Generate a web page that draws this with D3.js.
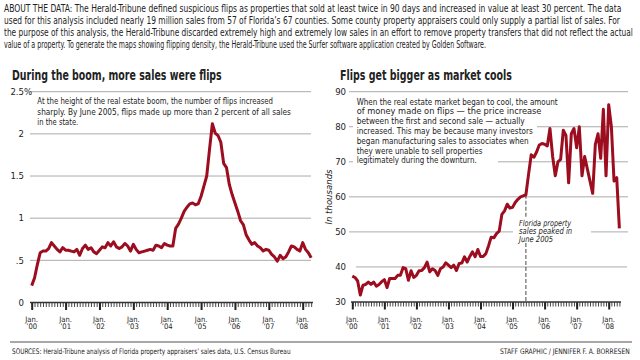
<!DOCTYPE html>
<html><head><meta charset="utf-8">
<script src="https://cdn.jsdelivr.net/npm/d3@7"></script>
<style>
body{margin:0;background:#fff}
svg{display:block}
text{font-family:'Liberation Sans Narrow','Arial Narrow','DejaVu Sans Condensed',sans-serif;fill:#222}
</style>
</head><body>
<svg id="c" width="640" height="360"></svg>
<script>
// Share of sales that were flips (%), monthly Jan 2000 – Apr 2008
const flipShare = [
 0.20,0.29,0.45,0.59,0.61,0.61,0.64,0.71,0.67,0.63,0.60,0.65,
 0.62,0.62,0.61,0.60,0.63,0.56,0.64,0.68,0.63,0.65,0.60,0.58,
 0.62,0.66,0.65,0.71,0.67,0.72,0.66,0.64,0.66,0.70,0.67,0.61,
 0.69,0.63,0.59,0.60,0.61,0.62,0.63,0.62,0.68,0.67,0.65,0.70,
 0.68,0.67,0.67,0.88,0.93,1.00,1.08,1.13,1.17,1.18,1.16,1.17,
 1.26,1.38,1.50,1.82,2.12,2.01,1.98,1.90,1.65,1.60,1.40,1.28,
 1.18,1.08,0.97,0.92,0.80,0.74,0.69,0.71,0.67,0.65,0.61,0.63,
 0.62,0.57,0.54,0.49,0.56,0.52,0.54,0.60,0.67,0.66,0.63,0.61,
 0.71,0.63,0.59,0.53
];
// Average gain on flips (thousands of dollars), monthly Jan 2000 – May 2008
const flipGain = [
 37.4,37.0,36.0,32.0,34.8,35.0,35.7,35.0,35.7,34.5,35.0,35.8,
 36.4,34.1,36.7,36.7,36.7,37.6,37.6,39.8,39.5,36.2,38.9,37.0,
 37.6,38.9,39.0,39.8,41.4,38.6,39.5,39.0,37.6,39.5,40.0,41.2,
 40.5,39.8,40.5,39.0,41.0,41.1,42.9,41.4,43.0,44.3,42.9,45.0,
 43.0,43.0,43.8,46.0,48.5,48.3,49.5,50.2,55.0,56.0,57.9,56.8,
 57.0,58.4,59.3,60.0,60.3,60.6,66.5,72.0,71.3,72.8,74.8,75.2,
 75.0,74.5,79.5,71.6,66.0,70.0,70.7,79.0,77.5,64.0,78.0,79.5,
 74.0,80.0,66.0,71.5,68.0,64.5,61.0,75.0,78.0,71.0,85.0,66.0,
 86.3,80.0,64.5,65.5,51.0
];
const yearLabels = ["’00","’01","’02","’03","’04","’05","’06","’07","’08"];
const shareTicks = [0,0.5,1,1.5,2,2.5];
const shareTickLabels = ["0",".5","1","1.5","2","2.5"];
const gainTicks = [30,40,50,60,70,80,90];
const peakMonth = 65; // June 2005

const aboutLines = [
 "ABOUT THE DATA: The Herald-Tribune defined suspicious flips as properties that sold at least twice in 90 days and increased in value at least 30 percent. The data",
 "used for this analysis included nearly 19 million sales from 57 of Florida’s 67 counties. Some county property appraisers could only supply a partial list of sales. For",
 "the purpose of this analysis, the Herald-Tribune discarded extremely high and extremely low sales in an effort to remove property transfers that did not reflect the actual",
 "value of a property. To generate the maps showing flipping density, the Herald-Tribune used the Surfer software application created by Golden Software."
];
const leftTitle = "During the boom, more sales were flips";
const rightTitle = "Flips get bigger as market cools";
const leftNote = [
 "At the height of the real estate boom, the number of flips increased",
 "sharply. By June 2005, flips made up more than 2 percent of all sales",
 "in the state."
];
const rightNote = [
 "When the real estate market began to cool, the amount",
 "of money made on flips — the price increase",
 "between the first and second sale —  actually",
 "increased. This may be because many investors",
 "began manufacturing sales to associates when",
 "they were unable to sell properties",
 "legitimately during the downturn."
];
const peakNote = ["Florida property","sales  peaked in","June 2005"];
const sourceText = "SOURCES: Herald-Tribune analysis of Florida property appraisers’ sales data, U.S. Census Bureau";
const creditText = "STAFF GRAPHIC / JENNIFER F. A. BORRESEN";

const svg = d3.select("#c");
svg.append("rect").attr("width",640).attr("height",360).attr("fill","#fff");

const RED = "#9c0d1f", GRID = "#ababab";

// place text at (x,y) and squeeze it horizontally to a given width
function fitText(parent, str, x, y, width, size, opts={}) {
  const t = parent.append("text").attr("font-size",size).text(str);
  if (opts.weight) t.attr("font-weight",opts.weight);
  if (opts.style) t.attr("font-style",opts.style);
  if (opts.fill) t.attr("fill",opts.fill);
  const w0 = t.node().getComputedTextLength();
  const sx = w0 > 0 ? width / w0 : 1;
  t.attr("transform",`translate(${x},${y}) scale(${sx},1)`);
  return t;
}

// About text
const aboutW = [617, 616, 629, 482];
aboutLines.forEach((t,i)=> fitText(svg, t, 4, 11.5+i*12, aboutW[i], 10.2));

// Titles
fitText(svg, leftTitle, 12, 80, 210, 13.5, {weight:"bold", fill:"#1a1a1a"});
fitText(svg, rightTitle, 340, 80, 172, 13.5, {weight:"bold", fill:"#1a1a1a"});

// ---------- Left chart ----------
const xL = d3.scaleLinear().domain([0,96]).range([31.7,302.7]);
const yL = d3.scaleLinear().domain([0,2.5]).range([302.5,91.7]);

const gl = svg.append("g");
shareTicks.filter(v=>v>0).forEach(v=>{
  gl.append("line").attr("x1",30).attr("x2",311).attr("y1",yL(v)).attr("y2",yL(v))
    .attr("stroke",GRID).attr("stroke-width",1);
});
shareTicks.forEach((v,i)=>{
  gl.append("text").attr("x",24).attr("y",yL(v)+3.2).attr("text-anchor","end")
    .attr("font-size",9.5).text(shareTickLabels[i]);
});
gl.append("text").attr("x",24).attr("y",yL(2.5)+3.2).attr("font-size",9.5).text("%");

const leftNoteW = [236,254,41];
leftNote.forEach((t,i)=> fitText(gl, t, 37.3, 104+i*10.6, leftNoteW[i], 9.6));

// axis
const axL = svg.append("g").attr("transform","translate(0,302.5)");
axL.call(d3.axisBottom(xL).tickValues(d3.range(0,100)).tickSize(4.5).tickFormat("").tickSizeOuter(0));
axL.select(".domain").remove();
axL.selectAll(".tick line").attr("stroke","#333").attr("stroke-width",0.9);
const axL2 = svg.append("g").attr("transform","translate(0,302.5)");
axL2.call(d3.axisBottom(xL).tickValues(d3.range(0,97,12)).tickSize(7.5).tickFormat("").tickSizeOuter(0));
axL2.select(".domain").remove();
axL2.selectAll(".tick line").attr("stroke","#222").attr("stroke-width",2);
svg.append("line").attr("x1",30).attr("x2",313).attr("y1",302.5).attr("y2",302.5).attr("stroke","#333").attr("stroke-width",1.6);
yearLabels.forEach((lab,i)=>{
  const t = svg.append("text").attr("x",xL(i*12)).attr("text-anchor","middle").attr("font-size",7.6).attr("fill","#333");
  t.append("tspan").attr("x",xL(i*12)).attr("y",321.5).text("Jan.");
  t.append("tspan").attr("x",xL(i*12)).attr("y",329).text(lab);
});

gl.append("path").datum(flipShare)
  .attr("d",d3.line().x((d,i)=>xL(i)).y(d=>yL(d)))
  .attr("fill","none").attr("stroke",RED).attr("stroke-width",3).attr("stroke-linejoin","round");

// ---------- Right chart ----------
const xR = d3.scaleLinear().domain([0,96]).range([352.3,608.7]);
const yR = d3.scaleLinear().domain([30,90]).range([302,91.7]);
const gr = svg.append("g");
// gridline segments (gaps where text is knocked out)
const gridSegs = {90:[[349,628]],80:[[349,353],[537,628]],70:[[349,353],[498,628]],60:[[349,628]],50:[[349,513],[591,628]],40:[[356,627]]};
gainTicks.filter(v=>v>30).forEach(v=>{
  gridSegs[v].forEach(s=>{
    gr.append("line").attr("x1",s[0]).attr("x2",s[1]).attr("y1",yR(v)).attr("y2",yR(v))
      .attr("stroke",GRID).attr("stroke-width",1);
  });
});
gainTicks.forEach(v=>{
  gr.append("text").attr("x",346).attr("y",yR(v)+3.3).attr("text-anchor","end")
    .attr("font-size",9.5).text(v);
});
gr.append("text").attr("transform","translate(332,197) rotate(-90)").attr("text-anchor","middle")
  .attr("font-size",9.5).attr("font-style","italic").text("In thousands");

const rightNoteW = [201,185,168,176,172,126,120];
rightNote.forEach((t,i)=> fitText(gr, t, 356.7, 104.5+i*9.8, rightNoteW[i], 8.6));

// dashed peak line
const px = xR(peakMonth);
[[yR(flipGain[peakMonth]),218],[243,302]].forEach(s=>{
  gr.append("line").attr("x1",px).attr("x2",px).attr("y1",s[0]).attr("y2",s[1])
    .attr("stroke","#333").attr("stroke-width",0.9).attr("stroke-dasharray","4,2");
});
const peakW = [52,53,34];
peakNote.forEach((t,i)=> fitText(gr, t, 519, 225.5+i*8, peakW[i], 8.4, {style:"italic"}));

const axR = svg.append("g").attr("transform","translate(0,302)");
axR.call(d3.axisBottom(xR).tickValues(d3.range(0,101)).tickSize(4.5).tickFormat("").tickSizeOuter(0));
axR.select(".domain").remove();
axR.selectAll(".tick line").attr("stroke","#333").attr("stroke-width",0.9);
const axR2 = svg.append("g").attr("transform","translate(0,302)");
axR2.call(d3.axisBottom(xR).tickValues(d3.range(0,97,12)).tickSize(7.5).tickFormat("").tickSizeOuter(0));
axR2.select(".domain").remove();
axR2.selectAll(".tick line").attr("stroke","#222").attr("stroke-width",2);
svg.append("line").attr("x1",351).attr("x2",621).attr("y1",302).attr("y2",302).attr("stroke","#333").attr("stroke-width",1.6);
yearLabels.forEach((lab,i)=>{
  const t = svg.append("text").attr("x",xR(i*12)).attr("text-anchor","middle").attr("font-size",7.6).attr("fill","#333");
  t.append("tspan").attr("x",xR(i*12)).attr("y",321.5).text("Jan.");
  t.append("tspan").attr("x",xR(i*12)).attr("y",329).text(lab);
});

gr.append("path").datum(flipGain)
  .attr("d",d3.line().x((d,i)=>xR(i)).y(d=>yR(d)))
  .attr("fill","none").attr("stroke",RED).attr("stroke-width",3).attr("stroke-linejoin","round");

// footer
svg.append("line").attr("x1",10).attr("x2",632).attr("y1",342).attr("y2",342).attr("stroke","#8a8a8a").attr("stroke-width",1.5);
fitText(svg, sourceText, 12, 353.5, 279, 7.6, {fill:"#333"});
fitText(svg, creditText, 500, 354, 130, 7.6, {fill:"#333"});
</script>
</body></html>
